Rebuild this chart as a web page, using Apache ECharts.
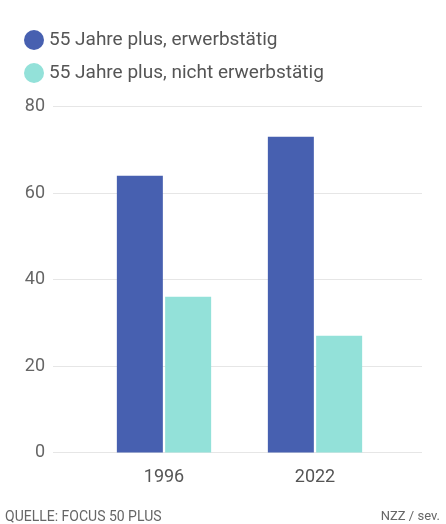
<!DOCTYPE html>
<html>
<head>
<meta charset="utf-8">
<script src="https://cdn.jsdelivr.net/npm/echarts@6/dist/echarts.min.js"></script>
<style>
html,body{margin:0;padding:0;background:#fff;}
#c{width:446px;height:524px;}
</style>
</head>
<body>
<div id="c"></div>
<script>
const categories = ['1996', '2022'];
const seriesNames = ['55 Jahre plus, erwerbstätig', '55 Jahre plus, nicht erwerbstätig'];
const employed = [64, 73];
const notEmployed = [36, 27];
const yTicks = [0, 20, 40, 60, 80];
const source = 'QUELLE: FOCUS 50 PLUS';
const credit = 'NZZ / sev.';

const FONT = 'Roboto';
const chart = echarts.init(document.getElementById('c'), null, {renderer: 'canvas'});
chart.setOption({
  animation: false,
  backgroundColor: '#fff',
  textStyle: {fontFamily: FONT},
  legend: {
    orient: 'vertical',
    left: 19, top: 25,
    icon: 'circle',
    itemWidth: 20, itemHeight: 20, itemGap: 13,
    data: seriesNames,
    textStyle: {fontFamily: FONT, fontSize: 19, color: '#555', padding: [0, 0, 0, 0]}
  },
  grid: [
    {left: 53, right: 24, top: 106.5, bottom: 71.5},
    {left: 88.5, right: 55.5, top: 106.5, bottom: 71.5}
  ],
  xAxis: [
    {gridIndex: 0, type: 'category', data: categories, show: false},
    {gridIndex: 1, type: 'category', data: categories,
     axisLine: {show: false}, axisTick: {show: false},
     axisLabel: {fontFamily: FONT, fontSize: 18, color: '#555', margin: 16}}
  ],
  yAxis: [
    {gridIndex: 0, type: 'value', min: yTicks[0], max: yTicks[yTicks.length - 1], interval: 20,
     axisLine: {show: false}, axisTick: {show: false},
     axisLabel: {fontFamily: FONT, fontSize: 18, color: '#666', margin: 8},
     splitLine: {lineStyle: {color: '#e6e6e6', width: 1}}},
    {gridIndex: 1, type: 'value', min: 0, max: 80, interval: 20, show: false, splitLine: {show: false}}
  ],
  series: [
    {name: seriesNames[0], type: 'bar', xAxisIndex: 1, yAxisIndex: 1, data: employed,
     barWidth: 46, barGap: '5%', itemStyle: {color: '#4760B0'}},
    {name: seriesNames[1], type: 'bar', xAxisIndex: 1, yAxisIndex: 1, data: notEmployed,
     barWidth: 46, itemStyle: {color: '#93E1D9'}}
  ],
  graphic: [
    {type: 'text', left: 5, top: 510, style: {text: source, font: '14px ' + FONT, fill: '#666'}},
    {type: 'text', right: 6, top: 510, style: {text: credit, font: '13px ' + FONT, fill: '#666'}}
  ]
});
</script>
</body>
</html>
